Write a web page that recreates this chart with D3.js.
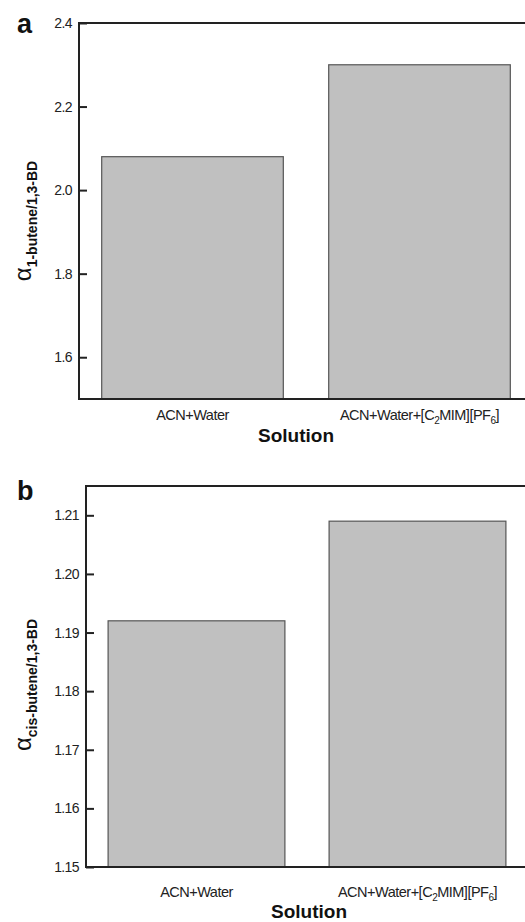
<!DOCTYPE html>
<html>
<head>
<meta charset="utf-8">
<script src="https://cdn.jsdelivr.net/npm/d3@7"></script>
<style>
  body { margin: 0; background: #fff; }
  svg { display: block; font-family: "Liberation Sans", Arial, sans-serif; }
</style>
</head>
<body>
<div id="chart"></div>
<script>
// data
const solutions = ["ACN+Water", "ACN+Water+IL"];
const alphaButene = [2.08, 2.30];      // panel a
const alphaCisButene = [1.192, 1.209]; // panel b
const ticksA = [1.6, 1.8, 2.0, 2.2, 2.4];
const ticksB = [1.15, 1.16, 1.17, 1.18, 1.19, 1.20, 1.21];

const svg = d3.select("#chart").append("svg")
    .attr("width", 525)
    .attr("height", 922);

function drawPanel(cfg) {
    let x = d3.scaleBand()
        .domain(solutions)
        .range([cfg.left, cfg.right])
        .paddingInner(0.2)
        .paddingOuter(0.1);

    let y = d3.scaleLinear()
        .domain(cfg.domain)
        .range([cfg.bottom, cfg.top]);

    let g = svg.append("g");

    // bars
    g.selectAll(".bar")
        .data(cfg.values)
        .enter().append("rect")
        .attr("class", "bar")
        .attr("x", (d, i) => x(solutions[i]))
        .attr("width", x.bandwidth())
        .attr("y", d => y(d))
        .attr("height", d => cfg.bottom - y(d))
        .style("fill", "#c0c0c0")
        .style("stroke", "#555")
        .style("stroke-width", 1.2);

    // frame (right side runs off the page)
    g.append("path")
        .attr("d", "M" + cfg.right + "," + cfg.top + "H" + cfg.left + "V" + cfg.bottom + "H" + cfg.right)
        .style("fill", "none")
        .style("stroke", "#222")
        .style("stroke-width", 2);

    // y axis, ticks pointing inward
    let axis = d3.axisLeft(y)
        .tickValues(cfg.ticks)
        .tickFormat(d3.format(cfg.fmt))
        .tickSizeInner(-8)
        .tickSizeOuter(0)
        .tickPadding(7);

    let ax = g.append("g")
        .attr("transform", "translate(" + cfg.left + ",0)")
        .call(axis);
    ax.select(".domain").remove();
    ax.selectAll(".tick line").style("stroke", "#222").style("stroke-width", 2);
    ax.selectAll(".tick text")
        .style("font-size", "14px")
        .style("fill", "#222")
        .style("font-family", "'Liberation Sans', Arial, sans-serif")
        .attr("letter-spacing", "-0.6");

    // category labels
    g.append("text")
        .attr("x", x(solutions[0]) + x.bandwidth() / 2)
        .attr("y", cfg.catY)
        .attr("text-anchor", "middle")
        .style("font-size", "14.5px")
        .attr("letter-spacing", "-0.5")
        .style("fill", "#222")
        .text("ACN+Water");

    let lab2 = g.append("text")
        .attr("x", x(solutions[1]) + x.bandwidth() / 2)
        .attr("y", cfg.catY)
        .attr("text-anchor", "middle")
        .style("font-size", "14.5px")
        .attr("letter-spacing", "-0.5")
        .style("fill", "#222");
    lab2.append("tspan").text("ACN+Water+[C");
    lab2.append("tspan").attr("dy", 4).style("font-size", "10px").text("2");
    lab2.append("tspan").attr("dy", -4).text("MIM][PF");
    lab2.append("tspan").attr("dy", 4).style("font-size", "10px").text("6");
    lab2.append("tspan").attr("dy", -4).text("]");

    // x title
    g.append("text")
        .attr("x", cfg.titleX)
        .attr("y", cfg.titleY)
        .attr("text-anchor", "middle")
        .style("font-size", "19px")
        .style("font-weight", "bold")
        .style("fill", "#111")
        .text("Solution");

    // y title: alpha with subscript
    let yt = g.append("text")
        .attr("transform", "translate(" + cfg.yTitleX + "," + cfg.yTitleY + ") rotate(-90)")
        .attr("text-anchor", "middle")
        .style("fill", "#111");
    yt.append("tspan").style("font-size", "24px").text("α");
    yt.append("tspan")
        .attr("dy", 6)
        .style("font-size", "14px")
        .style("font-weight", "bold")
        .text(cfg.sub);

    // panel letter
    g.append("text")
        .attr("x", cfg.letterX)
        .attr("y", cfg.letterY)
        .style("font-size", "27px")
        .style("font-weight", "bold")
        .style("fill", "#111")
        .text(cfg.letter);
}

drawPanel({
    values: alphaButene, domain: [1.5, 2.4], ticks: ticksA, fmt: ".1f",
    left: 79, right: 533, top: 23, bottom: 399,
    catY: 420, titleX: 296, titleY: 442,
    yTitleX: 31, yTitleY: 221, sub: "1-butene/1,3-BD",
    letter: "a", letterX: 17, letterY: 33
});

drawPanel({
    values: alphaCisButene, domain: [1.15, 1.215], ticks: ticksB, fmt: ".2f",
    left: 86, right: 528, top: 486, bottom: 867,
    catY: 897, titleX: 309, titleY: 918,
    yTitleX: 31, yTitleY: 685, sub: "cis-butene/1,3-BD",
    letter: "b", letterX: 17, letterY: 500
});
</script>
</body>
</html>
